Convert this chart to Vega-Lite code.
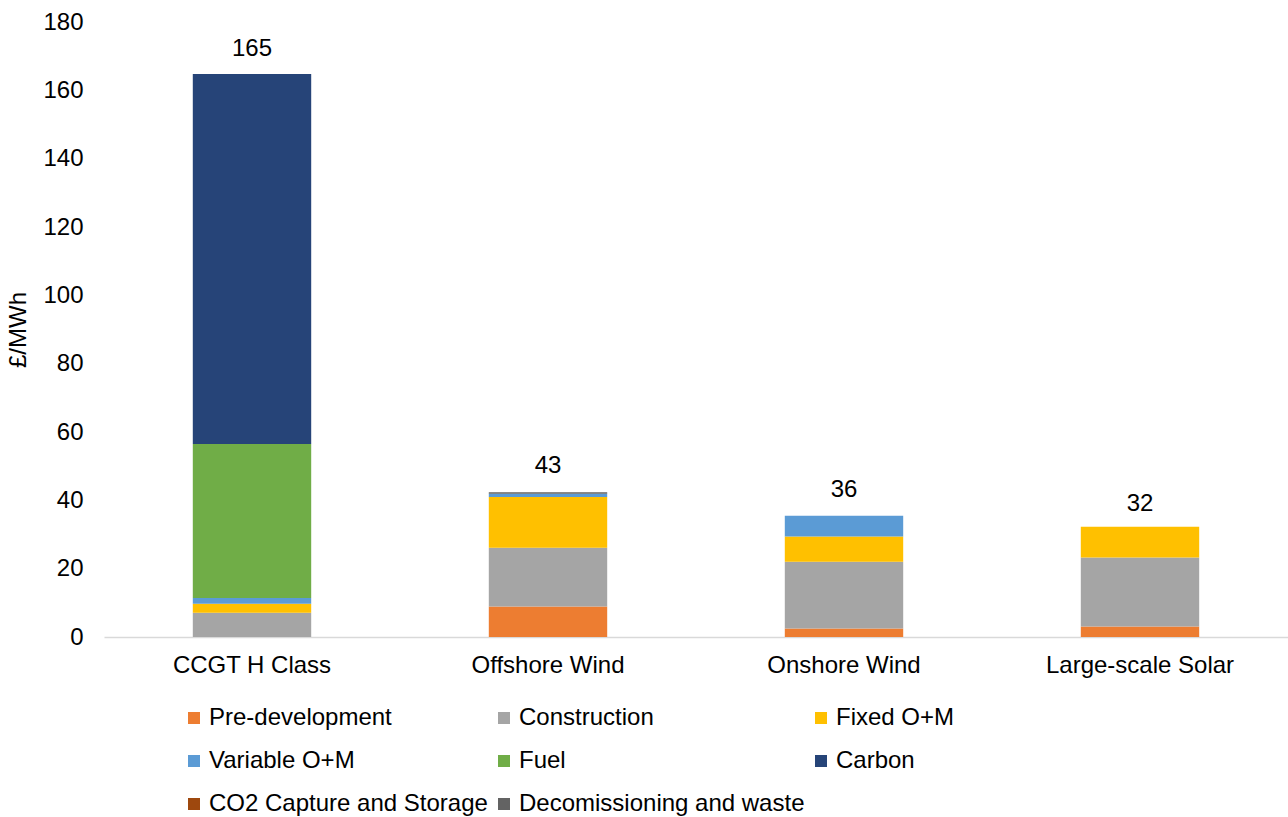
{
  "$schema": "https://vega.github.io/schema/vega-lite/v6.json",
  "autosize": {"type": "none"},
  "width": 1184,
  "height": 615,
  "padding": {"left": 104, "top": 22, "right": 0, "bottom": 180},
  "background": "white",
  "config": {
    "font": "Liberation Sans",
    "view": {"stroke": null},
    "axis": {"labelFont": "Liberation Sans", "titleFont": "Liberation Sans", "labelColor": "#000000", "titleColor": "#000000"}
  },
  "datasets": {
    "costs": [
      {"technology": "CCGT H Class", "component": "Construction", "k": 2, "value": 7.1},
      {"technology": "CCGT H Class", "component": "Fixed O+M", "k": 3, "value": 2.6},
      {"technology": "CCGT H Class", "component": "Variable O+M", "k": 4, "value": 1.7},
      {"technology": "CCGT H Class", "component": "Fuel", "k": 5, "value": 45.1},
      {"technology": "CCGT H Class", "component": "Carbon", "k": 6, "value": 108.3},
      {"technology": "Offshore Wind", "component": "Pre-development", "k": 1, "value": 8.9},
      {"technology": "Offshore Wind", "component": "Construction", "k": 2, "value": 17.2},
      {"technology": "Offshore Wind", "component": "Fixed O+M", "k": 3, "value": 14.9},
      {"technology": "Offshore Wind", "component": "Variable O+M", "k": 4, "value": 0.9},
      {"technology": "Offshore Wind", "component": "Decomissioning and waste", "k": 8, "value": 0.5},
      {"technology": "Onshore Wind", "component": "Pre-development", "k": 1, "value": 2.5},
      {"technology": "Onshore Wind", "component": "Construction", "k": 2, "value": 19.5},
      {"technology": "Onshore Wind", "component": "Fixed O+M", "k": 3, "value": 7.4},
      {"technology": "Onshore Wind", "component": "Variable O+M", "k": 4, "value": 6.1},
      {"technology": "Large-scale Solar", "component": "Pre-development", "k": 1, "value": 3.1},
      {"technology": "Large-scale Solar", "component": "Construction", "k": 2, "value": 20.2},
      {"technology": "Large-scale Solar", "component": "Fixed O+M", "k": 3, "value": 9.0}
    ],
    "totals": [
      {"technology": "CCGT H Class", "total": 165},
      {"technology": "Offshore Wind", "total": 43},
      {"technology": "Onshore Wind", "total": 36},
      {"technology": "Large-scale Solar", "total": 32}
    ]
  },
  "encoding": {
    "x": {
      "field": "technology",
      "type": "nominal",
      "sort": ["CCGT H Class", "Offshore Wind", "Onshore Wind", "Large-scale Solar"],
      "scale": {"paddingInner": 0.6, "paddingOuter": 0.3},
      "axis": {
        "title": null,
        "labelAngle": 0,
        "labelFontSize": 24,
        "labelPadding": 16,
        "labelLimit": 400,
        "ticks": false,
        "domainColor": "#D9D9D9",
        "domainWidth": 1.5
      }
    }
  },
  "layer": [
    {
      "data": {"name": "costs"},
      "mark": {"type": "bar"},
      "encoding": {
        "y": {
          "field": "value",
          "type": "quantitative",
          "stack": "zero",
          "scale": {"domain": [0, 180], "nice": false},
          "axis": {
            "title": "£/MWh",
            "titleFontSize": 24,
            "titleFontWeight": "normal",
            "titlePadding": 12,
            "labelFontSize": 24,
            "labelPadding": 21,
            "values": [0, 20, 40, 60, 80, 100, 120, 140, 160, 180],
            "grid": false,
            "ticks": false,
            "domain": false
          }
        },
        "order": {"field": "k", "type": "quantitative", "sort": "ascending"},
        "color": {
          "field": "component",
          "type": "nominal",
          "scale": {
            "domain": ["Pre-development", "Construction", "Fixed O+M", "Variable O+M", "Fuel", "Carbon", "CO2 Capture and Storage", "Decomissioning and waste"],
            "range": ["#ED7D31", "#A5A5A5", "#FFC000", "#5B9BD5", "#70AD47", "#264478", "#9E480E", "#636363"]
          },
          "legend": {
            "title": null,
            "orient": "none",
            "direction": "horizontal",
            "legendX": 78,
            "legendY": 684,
            "columns": 3,
            "symbolType": "square",
            "symbolSize": 144,
            "symbolStrokeWidth": 0,
            "labelFontSize": 24,
            "labelColor": "#000000",
            "labelOffset": 3,
            "labelLimit": 400,
            "rowPadding": 19,
            "columnPadding": 4
          }
        }
      }
    },
    {
      "data": {"name": "totals"},
      "mark": {"type": "text", "fontSize": 24, "dy": -24, "baseline": "middle", "color": "#000000"},
      "encoding": {
        "y": {"field": "total", "type": "quantitative"},
        "text": {"field": "total", "type": "quantitative"}
      }
    }
  ]
}
